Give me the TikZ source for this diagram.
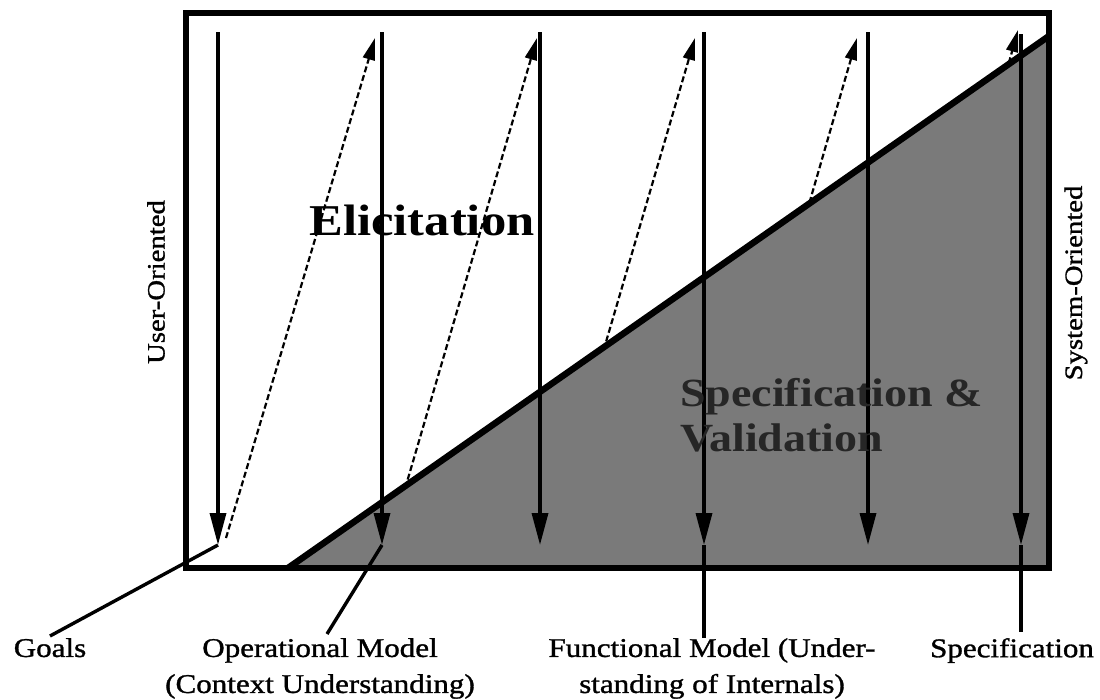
\documentclass[tikz,border=0pt]{standalone}
\usepackage{fontspec}
\setmainfont{Liberation Serif}[FakeStretch=1.15]
\newfontfamily\lblfont{Liberation Serif}[FakeStretch=1.15,FakeBold=1.2]
\usetikzlibrary{arrows.meta}
\begin{document}
\begin{tikzpicture}[x=1pt,y=-1pt,
  solidarrow/.style={line width=3.4pt,-{Triangle[length=32pt,width=16pt]}},
  dasharrow/.style={line width=2.2pt,dash pattern=on 6pt off 3pt,-{Triangle[length=22pt,width=12pt]}},
  lead/.style={line width=3.4pt},
  frame/.style={line width=6.5pt,line join=miter},
  shade/.style={fill=black!52},
  lbl/.style={font=\lblfont\fontsize{27}{36}\selectfont,align=center,inner sep=0pt,anchor=north},
  side/.style={font=\lblfont\fontsize{25}{28}\selectfont,rotate=90,inner sep=0pt},
  big/.style={font=\fontsize{44}{48}\bfseries\selectfont,inner sep=0pt},
  bigshade/.style={font=\fontsize{40}{45}\bfseries\selectfont,inner sep=0pt,align=left,text=black!85},
]
\useasboundingbox (0,0) rectangle (1100,699);
% columns
\coordinate (t1) at (218,32);  \coordinate (b1) at (218,545);
\coordinate (t2) at (382,32);  \coordinate (b2) at (382,545);
\coordinate (t3) at (540,32);  \coordinate (b3) at (540,545);
\coordinate (t4) at (704,32);  \coordinate (b4) at (704,545);
\coordinate (t5) at (868,32);  \coordinate (b5) at (868,545);
\coordinate (t6) at (1021,34); \coordinate (b6) at (1021,545);
% dashed feedback arrows
\coordinate (d1s) at (226,538); \coordinate (d1e) at (375,38);
\coordinate (d2s) at (390,540); \coordinate (d2e) at (537,38);
\coordinate (d3s) at (548,540); \coordinate (d3e) at (695,38);
\coordinate (d4s) at (712,540); \coordinate (d4e) at (857,38);
\coordinate (d5s) at (876,540); \coordinate (d5e) at (1018,30);
\draw[dasharrow] (d1s) -- (d1e);
\draw[dasharrow] (d2s) -- (d2e);
\draw[dasharrow] (d3s) -- (d3e);
\draw[dasharrow] (d4s) -- (d4e);
\draw[dasharrow] (d5s) -- (d5e);
% shaded triangle
\coordinate (tri1) at (288,568);
\coordinate (tri2) at (1049,568);
\coordinate (tri3) at (1049,36);
\fill[shade] (tri1) -- (tri2) -- (tri3) -- cycle;
% frame
\coordinate (boxtl) at (186,13);
\coordinate (boxbr) at (1049,568);
\draw[frame] (boxtl) rectangle (boxbr);
\draw[frame] (tri1) -- (tri3);
% solid arrows
\draw[solidarrow] (t1) -- (b1);
\draw[solidarrow] (t2) -- (b2);
\draw[solidarrow] (t3) -- (b3);
\draw[solidarrow] (t4) -- (b4);
\draw[solidarrow] (t5) -- (b5);
\draw[solidarrow] (t6) -- (b6);
% labels
\node[lbl] (goals) at (50,638) {Goals};
\node[lbl] (oper) at (320,638) {Operational Model\\(Context Understanding)};
\node[lbl] (func) at (712,638) {Functional Model (Under-\\standing of Internals)};
\node[lbl] (spec) at (1012,638) {Specification};
\coordinate (gl) at (50,636);
\coordinate (ol) at (327,634);
\coordinate (fl) at (704,638);
\coordinate (sl) at (1021,632);
\draw[lead] (b1) -- (gl);
\draw[lead] (b2) -- (ol);
\draw[lead] (b4) -- (fl);
\draw[lead] (b6) -- (sl);
\node[side] (user) at (156,282) {User-Oriented};
\node[side] (sys) at (1076,283) {System-Oriented};
\node[big,anchor=base] (elic) at (422,235) {Elicitation};
\node[bigshade,anchor=north west] (specval) at (680,378) {Specification \&\\Validation};
\end{tikzpicture}
\end{document}
